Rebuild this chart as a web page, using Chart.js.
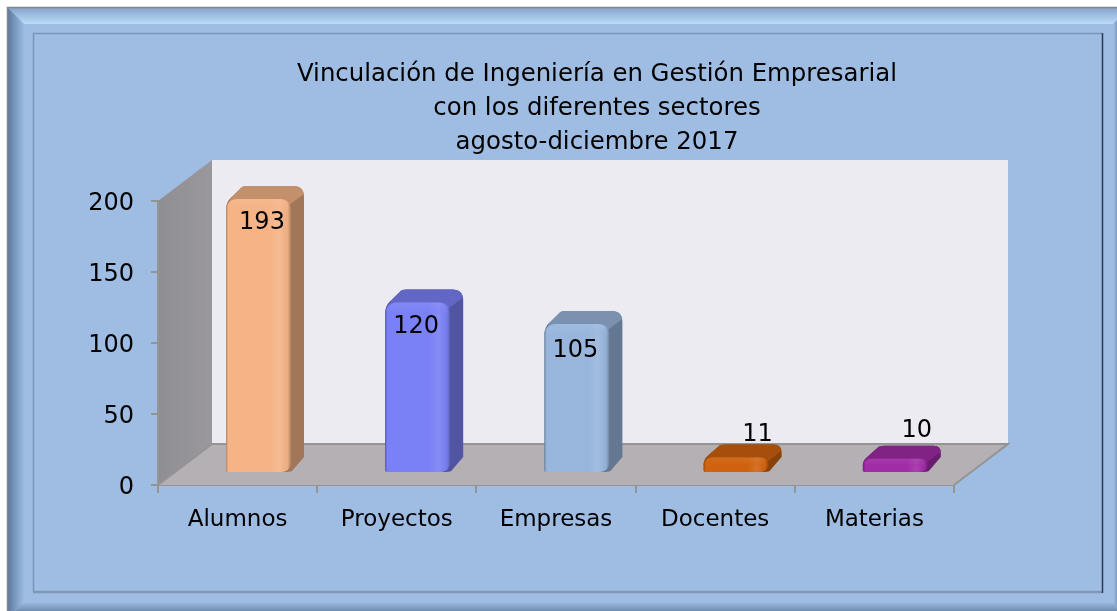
<!DOCTYPE html>
<html><head><meta charset="utf-8">
<style>html,body{margin:0;padding:0;background:#fff;overflow:hidden}#w{position:absolute;left:0;top:0;width:1117px;height:611px}canvas{display:block}</style>
<script src="https://cdn.jsdelivr.net/npm/chart.js@4/dist/chart.umd.min.js"></script>
</head><body><div id="w"><canvas id="c" width="1117" height="611"></canvas></div>
<script>
const categories=["Alumnos","Proyectos","Empresas","Docentes","Materias"];
const values=[193,120,105,11,10];
const titleLines=["Vinculación de Ingeniería en Gestión Empresarial","con los diferentes sectores","agosto-diciembre 2017"];
const barColors=["#f5b386","#7a80f5","#98b6dc","#d0620f","#a02ca6"];
const FONT='"DejaVu Sans", sans-serif';
const DEPTH={x:54,y:41};
const BAR={dx:20.4,dy:12,sx:14,sy:13};
const LABEL_SHIFT=[[4,24],[-1,24],[-1,27],[22,-23],[22,-28]];

function shade(hex,f){const n=parseInt(hex.slice(1),16);const c=[n>>16,(n>>8)&255,n&255].map(v=>{
  const r=f<1?v*f:v+(255-v)*(f-1);return Math.round(Math.min(255,r));});return `rgb(${c.join(',')})`;}

const frame={id:'frame',beforeDraw(ch){
  const g=ch.ctx,W=ch.width,H=ch.height;
  const L=8,T=8,R=1129,B=618;
  g.save();
  g.fillStyle='#fff';g.fillRect(0,0,W,H);
  g.fillStyle='#9fbde3';g.fillRect(L,T,R-L,B-T);
  const bw=16;
  const trap=(pts,grad)=>{g.beginPath();pts.forEach((p,i)=>i?g.lineTo(p[0],p[1]):g.moveTo(p[0],p[1]));g.closePath();g.fillStyle=grad;g.fill();};
  let gr=g.createLinearGradient(0,T,0,T+bw);gr.addColorStop(0,'#86a5ca');gr.addColorStop(1,'#bcdcfa');
  trap([[L,T],[R,T],[R-bw,T+bw],[L+bw,T+bw]],gr);
  gr=g.createLinearGradient(L,0,L+bw,0);gr.addColorStop(0,'#5d7b9f');gr.addColorStop(1,'#9dbce2');
  trap([[L,T],[L+bw,T+bw],[L+bw,B-bw],[L,B]],gr);
  gr=g.createLinearGradient(R-bw,0,R,0);gr.addColorStop(0,'#a3c1e6');gr.addColorStop(.35,'#6f8cb0');gr.addColorStop(1,'#5d7b9f');
  trap([[R,T],[R,B],[R-bw,B-bw],[R-bw,T+bw]],gr);
  gr=g.createLinearGradient(0,B-bw,0,B);gr.addColorStop(0,'#9fbde3');gr.addColorStop(.6,'#6c89ad');gr.addColorStop(1,'#5d7b9f');
  trap([[L,B],[L+bw,B-bw],[R-bw,B-bw],[R,B]],gr);
  g.strokeStyle='#858585';g.lineWidth=1.5;g.beginPath();g.moveTo(L-.5,H);g.lineTo(L-.5,T-.5);g.lineTo(W,T-.5);g.stroke();
  // inner panel
  g.strokeStyle='#7895bb';g.lineWidth=1.5;
  g.beginPath();g.moveTo(33.5,592);g.lineTo(33.5,33.5);g.lineTo(1102,33.5);g.stroke();
  g.strokeStyle='#8098b8';g.lineWidth=2.5;g.beginPath();g.moveTo(33,592);g.lineTo(1102,592);g.stroke();
  g.strokeStyle='#2a3a55';g.lineWidth=1.5;g.beginPath();g.moveTo(1102.5,33);g.lineTo(1102.5,593);g.stroke();
  g.restore();
}};

const walls={id:'walls',beforeDatasetsDraw(ch){
  const g=ch.ctx,a=ch.chartArea,d=DEPTH;
  g.save();
  g.fillStyle='#edebf2';g.fillRect(a.left+d.x,a.top-d.y,a.right-a.left,a.bottom-a.top);
  let gr=g.createLinearGradient(a.left,0,a.left+d.x,0);gr.addColorStop(0,'#8f8e92');gr.addColorStop(1,'#9a989c');
  g.fillStyle=gr;g.beginPath();g.moveTo(a.left,a.top);g.lineTo(a.left+d.x,a.top-d.y);g.lineTo(a.left+d.x,a.bottom-d.y);g.lineTo(a.left,a.bottom);g.closePath();g.fill();
  g.fillStyle='#b4b0b4';g.beginPath();g.moveTo(a.left,a.bottom);g.lineTo(a.left+d.x,a.bottom-d.y);g.lineTo(a.right+d.x,a.bottom-d.y);g.lineTo(a.right,a.bottom);g.closePath();g.fill();
  g.strokeStyle='#949494';g.lineWidth=2;g.beginPath();
  g.moveTo(a.left,a.bottom);g.lineTo(a.left+d.x,a.bottom-d.y);g.lineTo(a.right+d.x,a.bottom-d.y);g.lineTo(a.right,a.bottom);
  g.moveTo(a.left,a.top);g.lineTo(a.left,a.bottom);g.stroke();
  g.restore();
}};

function rr(g,x,y,w,h,r){g.beginPath();g.roundRect(x,y,w,h,r);}

const bars3d={id:'bars3d',beforeDatasetDraw(ch,args){
  const g=ch.ctx,meta=args.meta;
  meta.data.forEach((el,i)=>{
    const col=barColors[i];
    const p=el.getProps(['x','y','base','width'],true);
    const w=p.width,x=p.x-w/2+BAR.dx,x2=x+w,top=p.y-BAR.dy,bot=p.base-BAR.dy,sx=BAR.sx,sy=BAR.sy;
    const h=bot-top;const r=Math.min(11,h*.55);
    const path=()=>{g.beginPath();
      g.moveTo(x,bot-1);g.lineTo(x,top+r);
      g.bezierCurveTo(x,top+r*.3,x+r*.3,top,x+r*.6,top-r*.25);
      g.lineTo(x+sx+2,top-sy+1);g.quadraticCurveTo(x+sx+4,top-sy,x+sx+8,top-sy);
      g.lineTo(x2+sx-r,top-sy);g.quadraticCurveTo(x2+sx,top-sy,x2+sx,top-sy+r);
      g.lineTo(x2+sx,bot-sy-2);g.lineTo(x2+2,bot-1);g.quadraticCurveTo(x2,bot,x2-6,bot);
      g.lineTo(x+2,bot);g.closePath();};
    g.save();
    g.fillStyle=shade(col,.66);path();g.fill();
    g.save();path();g.clip();
    // top face
    g.fillStyle=shade(col,.8);
    g.beginPath();g.moveTo(x-2,top+r);g.lineTo(x+sx,top-sy-2);g.lineTo(x2+sx+2,top-sy-2);g.lineTo(x2+sx+2,top-sy+r*.6);g.lineTo(x2,top+r*.5);g.closePath();g.fill();
    // front face
    const lg=g.createLinearGradient(x,0,x2+1,0);
    lg.addColorStop(0,shade(col,.74));lg.addColorStop(.035,col);lg.addColorStop(.68,col);
    lg.addColorStop(.82,shade(col,1.1));lg.addColorStop(.95,shade(col,.96));lg.addColorStop(1,shade(col,.72));
    g.fillStyle=lg;rr(g,x,top,w+1,h,[r,r*.9,Math.min(r,9),0]);g.fill();
    // top highlight on the front's upper edge
    const tg=g.createLinearGradient(0,top,0,top+r);
    tg.addColorStop(0,shade(col,1.18));tg.addColorStop(1,col);
    g.globalAlpha=.35;g.fillStyle=tg;rr(g,x+2,top,w-3,Math.min(r,h),[r,r,0,0]);g.fill();
    g.restore();
    g.restore();
  });
  return false;
},
afterDraw(ch){
  const g=ch.ctx,meta=ch.getDatasetMeta(0);
  g.save();g.fillStyle='#000';g.font='24px '+FONT;g.textAlign='center';g.textBaseline='middle';
  meta.data.forEach((el,i)=>{
    const p=el.getProps(['x','y'],true);
    g.fillText(String(values[i]),p.x+BAR.dx+LABEL_SHIFT[i][0],p.y-BAR.dy+LABEL_SHIFT[i][1]);
  });
  g.restore();
}};

const place={id:'place',afterLayout(ch){ch.titleBlock.left+=240;}};

new Chart(document.getElementById('c'),{
  type:'bar',
  data:{labels:categories,datasets:[{data:values,backgroundColor:barColors,barPercentage:.402,categoryPercentage:1}]},
  plugins:[frame,walls,bars3d,place],
  options:{
    responsive:false,animation:false,
    layout:{padding:{left:0,right:163,top:0,bottom:0}},
    plugins:{legend:{display:false},tooltip:{enabled:false},
      title:{display:true,text:titleLines,color:'#000',font:{family:FONT,size:24.4,weight:'normal',lineHeight:34/24.4},padding:{top:58,bottom:41}}},
    scales:{
      x:{afterFit(s){s.height=126;},
        grid:{drawOnChartArea:false,color:'#949494',tickLength:8,lineWidth:2,offset:true},
        border:{color:'#949494',width:2},
        ticks:{color:'#000',font:{family:FONT,size:23},padding:13,maxRotation:0}},
      y:{min:0,max:200,afterFit(s){s.width=158;},
        grid:{drawOnChartArea:false,color:'#949494',tickLength:7,lineWidth:2},
        border:{color:'#949494',width:2},
        ticks:{color:'#000',font:{family:FONT,size:24},stepSize:50,padding:17,labelOffset:2.5}}
    }
  }
});
</script></body></html>
